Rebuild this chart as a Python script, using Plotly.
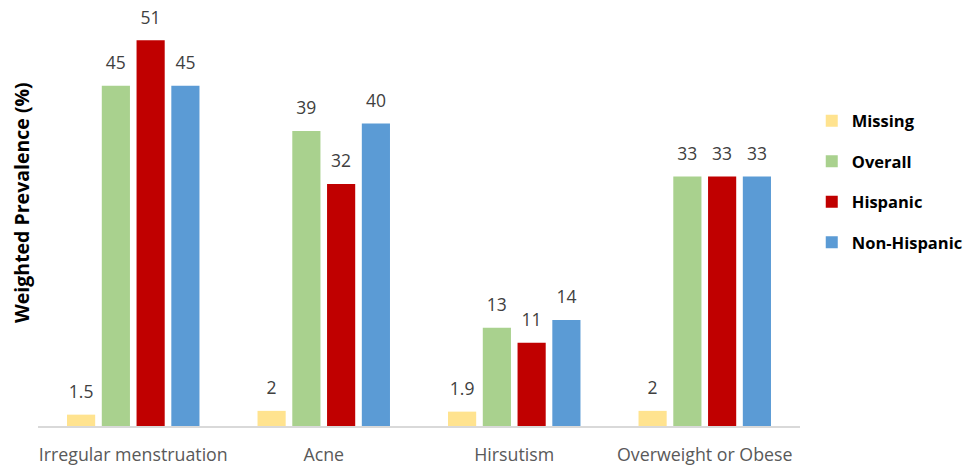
import plotly.graph_objects as go

categories = ["Irregular menstruation", "Acne", "Hirsutism", "Overweight or Obese"]
series_names = ["Missing", "Overall", "Hispanic", "Non-Hispanic"]
missing = [1.5, 2, 1.9, 2]
overall = [45, 39, 13, 33]
hispanic = [51, 32, 11, 33]
non_hispanic = [45, 40, 14, 33]
values = [missing, overall, hispanic, non_hispanic]
colors = ["#FFE38F", "#A9D18E", "#C00000", "#5B9BD5"]

fig = go.Figure()
for name, vals, col in zip(series_names, values, colors):
    fig.add_trace(go.Bar(
        x=categories, y=vals, name=name, marker=dict(color=col, line=dict(width=0)),
        offsetgroup=name, legendgroup=name,
    ))
for name, vals in zip(series_names, values):
    fig.add_trace(go.Scatter(
        x=categories, y=vals, mode="markers+text", offsetgroup=name,
        marker=dict(size=18, opacity=0), text=[str(v) for v in vals],
        textposition="top center",
        textfont=dict(family="Open Sans", size=17.5, color="#404040"),
        showlegend=False, hoverinfo="skip", cliponaxis=False,
    ))

fig.update_layout(
    width=971, height=470,
    margin=dict(l=38, r=171, t=10, b=44, autoexpand=False),
    paper_bgcolor="white", plot_bgcolor="white",
    barmode="group", bargap=0.27, bargroupgap=0.19,
    scattermode="group", scattergap=0.27,
    showlegend=True,
    legend=dict(x=0.836, xref="container", y=0.775, xanchor="left", yanchor="top",
                traceorder="grouped", tracegroupgap=16,
                font=dict(family="Open Sans", size=16.5, color="#000000", weight="bold"),
                itemwidth=30),
    font=dict(family="Open Sans"),
    annotations=[dict(text="<b>Weighted Prevalence (%)</b>", xref="paper", yref="paper",
                      x=-0.0223, y=0.536, xanchor="center", yanchor="middle",
                      textangle=-90, showarrow=False,
                      font=dict(family="Open Sans", size=19.5, color="#000000"))],
)
fig.update_xaxes(showline=True, linecolor="#D9D9D9", linewidth=2, ticks="",
                 ticklabelstandoff=12, automargin=False,
                 tickfont=dict(family="Open Sans", size=17.8, color="#595959"), showgrid=False)
fig.update_yaxes(range=[0, 55], showticklabels=False, showgrid=False, zeroline=False, ticks="",
                 automargin=False)
fig.write_html("out.html")
